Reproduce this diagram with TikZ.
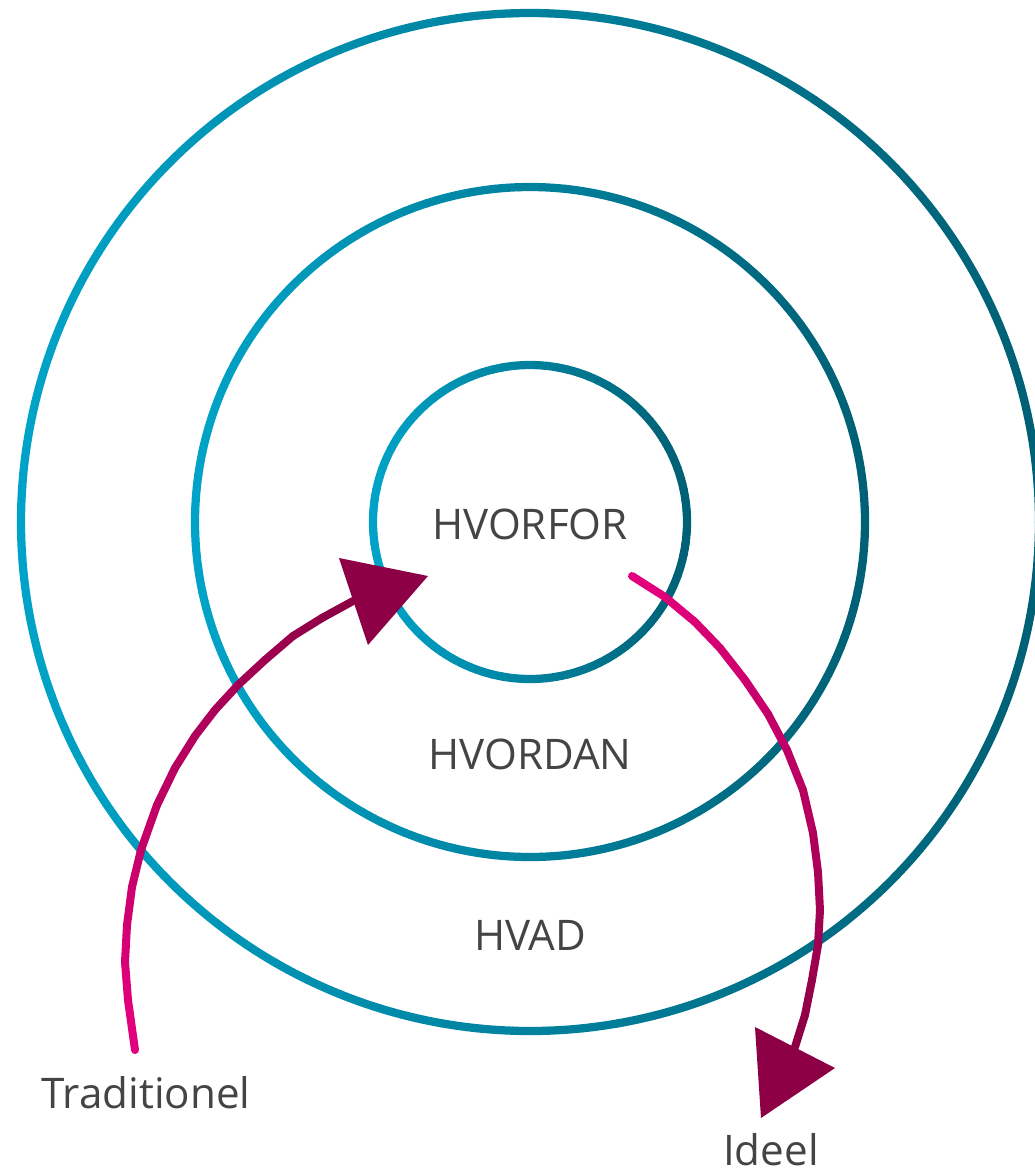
\documentclass[tikz,border=0pt]{standalone}
\usepackage{fontspec}
\setmainfont{Open Sans}
\usetikzlibrary{positioning}

\definecolor{ringleft}{HTML}{00A3C7}
\definecolor{ringright}{HTML}{005F74}
\definecolor{arrowstart}{HTML}{EA0080}
\definecolor{arrowend}{HTML}{8E0046}
\definecolor{labelgrey}{HTML}{444444}

\begin{document}
\begin{tikzpicture}[
    x=0.02cm, y=-0.02cm,
    ring/.style={line width=0.165cm, line cap=round},
    pinkline/.style={line width=0.16cm, line cap=round, line join=round},
    arrowhead/.style={fill=arrowend, draw=none},
    word/.style={text=labelgrey, font=\fontsize{24}{28}\selectfont, inner sep=0pt}
]
\useasboundingbox (0,0) rectangle (1035,1174);
\clip (0,0) rectangle (1035,1174);

\coordinate (c) at (530,522);

% Rings, cyan on the left turning to dark teal on the right
\foreach \r in {509,335,157} {
    \foreach \a in {0,4,...,356} {
        \pgfmathtruncatemacro\pct{(1+cos(\a+2))*50}
        \colorlet{segc}{ringright!\pct!ringleft}
        \draw[ring, segc] (c) ++(\a:\r) arc (\a:\a+4:\r);
    }
}

% Labels in the rings
\node[word] (why) at (530,524) {HVORFOR};
\node[word] (how) at (530,754) {HVORDAN};
\node[word] (what) at (530,935) {HVAD};

% Traditionel arrow
\coordinate (tradstart) at (135,1050);
\coordinate (tradend) at (353,601);
\foreach \x/\y [remember=\x as \lx (initially 135), remember=\y as \ly (initially 1050), count=\i] in
    {128/1000, 125/962, 127/925, 132/887, 141/850, 157/805, 175/768, 195/736,
     215/710, 238/685, 265/660, 293/636, 322/618, 353/601} {
    \pgfmathtruncatemacro\pct{\i/14*100}
    \colorlet{segc}{arrowend!\pct!arrowstart}
    \draw[pinkline, segc] (\lx,\ly) -- (\x,\y);
}
\fill[arrowhead] (339,558) -- (428,576) -- (368,645) -- cycle;
\node[word] (trad) at (146,1093) {Traditionel};

% Ideel arrow
\coordinate (idealstart) at (632,576);
\coordinate (idealend) at (795,1047);
\foreach \x/\y [remember=\x as \lx (initially 632), remember=\y as \ly (initially 576), count=\i] in
    {665/597, 695/622, 720/648, 745/680, 768/714, 787/750, 803/790, 813/833,
     818/872, 820/910, 818/945, 812/980, 805/1015, 795/1047} {
    \pgfmathtruncatemacro\pct{\i/14*100}
    \colorlet{segc}{arrowend!\pct!arrowstart}
    \draw[pinkline, segc] (\lx,\ly) -- (\x,\y);
}
\fill[arrowhead] (755,1027) -- (835,1068) -- (761,1118) -- cycle;
\node[word] (ideal) at (771,1150) {Ideel};

\end{tikzpicture}
\end{document}
